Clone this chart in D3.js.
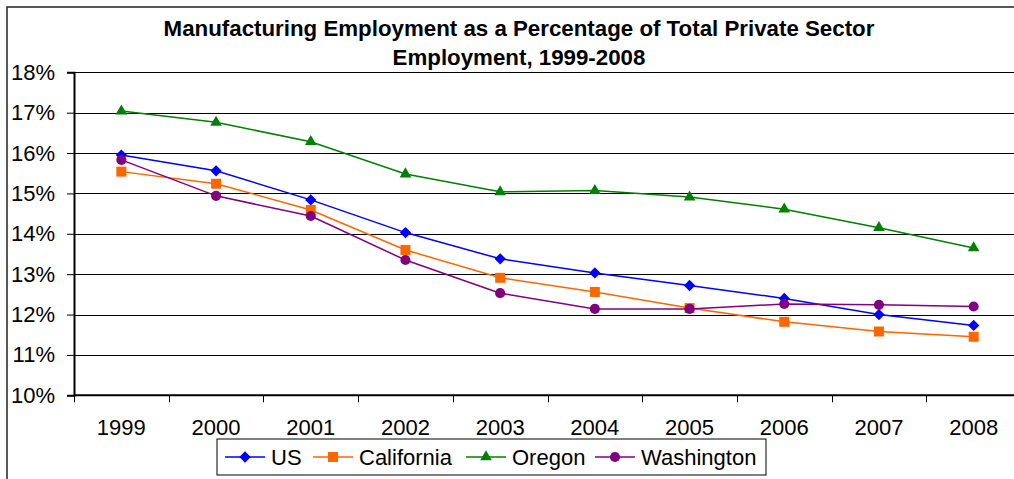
<!DOCTYPE html>
<html>
<head>
<meta charset="utf-8">
<script src="https://cdn.jsdelivr.net/npm/d3@7"></script>
<style>
  html, body { margin: 0; padding: 0; background: #fff; }
  svg { display: block; font-family: "Liberation Sans", Arial, sans-serif; }
</style>
</head>
<body>
<svg id="chart" width="1014" height="479"></svg>
<script>
// data
var years = ['1999', '2000', '2001', '2002', '2003', '2004', '2005', '2006', '2007', '2008']
var usValues = [15.95, 15.56, 14.84, 14.03, 13.38, 13.03, 12.72, 12.40, 12.00, 11.73]
var californiaValues = [15.54, 15.24, 14.59, 13.60, 12.91, 12.56, 12.16, 11.82, 11.58, 11.45]
var oregonValues = [17.04, 16.76, 16.28, 15.48, 15.04, 15.07, 14.91, 14.61, 14.15, 13.65]
var washingtonValues = [15.83, 14.94, 14.44, 13.35, 12.53, 12.14, 12.14, 12.26, 12.24, 12.20]
var yTicks = [10, 11, 12, 13, 14, 15, 16, 17, 18]
var titleLines = ['Manufacturing Employment as a Percentage of Total Private Sector', 'Employment, 1999-2008']

// the excel diamond is a square turned by 45 degrees
var series = [
  { name: 'US', values: usValues, color: '#0000ff', symbol: d3.symbolSquare, size: 64, rot: 45 },
  { name: 'California', values: californiaValues, color: '#ff6600', symbol: d3.symbolSquare, size: 100, rot: 0 },
  { name: 'Oregon', values: oregonValues, color: '#008000', symbol: d3.symbolTriangle, size: 58, rot: 0 },
  { name: 'Washington', values: washingtonValues, color: '#800080', symbol: d3.symbolCircle, size: 80, rot: 0 }
]

var svg = d3.select('#chart')
var plotLeft = 74, plotRight = 1021, plotTop = 72.3, plotBottom = 395.3
var fontSize = 22

var x = d3.scaleBand().domain(years).range([plotLeft, plotRight])
var y = d3.scaleLinear().domain([10, 18]).range([plotBottom, plotTop])

// outer chart border (right/bottom edges run off the picture)
svg.append('rect')
  .attr('x', 7).attr('y', 7)
  .attr('width', 1200).attr('height', 600)
  .attr('fill', 'none').attr('stroke', '#222').attr('stroke-width', 1.5)

// title
svg.selectAll('.title')
  .data(titleLines)
  .enter().append('text')
  .attr('class', 'title')
  .attr('x', 519)
  .attr('y', function(d, i) { return 36 + i * 29 })
  .attr('text-anchor', 'middle')
  .attr('font-size', 22.3)
  .attr('font-weight', 'bold')
  .text(function(d) { return d })

// gridlines
svg.append('g')
  .selectAll('line')
  .data(yTicks.slice(1))
  .enter().append('line')
  .attr('x1', plotLeft).attr('x2', 1014)
  .attr('y1', function(d) { return Math.round(y(d)) + 0.5 })
  .attr('y2', function(d) { return Math.round(y(d)) + 0.5 })
  .attr('stroke', '#000').attr('stroke-width', 1)

// y axis
var yAxis = svg.append('g')
  .attr('transform', 'translate(' + plotLeft + ',0)')
  .call(d3.axisLeft(y).tickValues(yTicks).tickSize(7).tickPadding(12)
    .tickFormat(function(d) { return d + '%' }))
yAxis.select('.domain').attr('stroke', '#000').attr('stroke-width', 2)
yAxis.selectAll('.tick line').attr('stroke', '#000')
yAxis.selectAll('text').attr('font-size', fontSize).attr('font-family', null).attr('fill', '#000')

// x axis, ticks on the category boundaries
var xAxis = svg.append('g')
  .attr('transform', 'translate(0,' + plotBottom + ')')
xAxis.append('line')
  .attr('x1', plotLeft).attr('x2', 1014)
  .attr('stroke', '#000').attr('stroke-width', 2)
xAxis.selectAll('.xtick')
  .data(years)
  .enter().append('line')
  .attr('class', 'xtick')
  .attr('x1', function(d) { return Math.round(x(d)) + 0.5 })
  .attr('x2', function(d) { return Math.round(x(d)) + 0.5 })
  .attr('y1', 0).attr('y2', 7)
  .attr('stroke', '#000')
xAxis.selectAll('.xlabel')
  .data(years)
  .enter().append('text')
  .attr('class', 'xlabel')
  .attr('x', function(d) { return x(d) + x.bandwidth() / 2 })
  .attr('y', 40)
  .attr('text-anchor', 'middle')
  .attr('font-size', fontSize)
  .text(function(d) { return d })

// lines and markers
var line = d3.line()
  .x(function(d, i) { return x(years[i]) + x.bandwidth() / 2 })
  .y(function(d) { return y(d) })

series.forEach(function(s) {
  var g = svg.append('g')
  g.append('path')
    .attr('d', line(s.values))
    .attr('fill', 'none')
    .attr('stroke', s.color)
    .attr('stroke-width', 1.5)
  g.selectAll('path.marker')
    .data(s.values)
    .enter().append('path')
    .attr('class', 'marker')
    .attr('d', d3.symbol().type(s.symbol).size(s.size))
    .attr('transform', function(d, i) {
      return 'translate(' + (x(years[i]) + x.bandwidth() / 2) + ',' + y(d) + ') rotate(' + s.rot + ')'
    })
    .attr('fill', s.color)
})

// legend
var legend = svg.append('g').attr('transform', 'translate(217,439)')
legend.append('rect')
  .attr('width', 549).attr('height', 36)
  .attr('fill', '#fff').attr('stroke', '#000').attr('stroke-width', 1)
var legendX = [8, 96, 249, 378]
var item = legend.selectAll('.item')
  .data(series)
  .enter().append('g')
  .attr('class', 'item')
  .attr('transform', function(d, i) { return 'translate(' + legendX[i] + ',18)' })
item.append('line')
  .attr('x1', 0).attr('x2', 40)
  .attr('stroke', function(d) { return d.color })
  .attr('stroke-width', 1.5)
item.append('path')
  .attr('d', function(d) { return d3.symbol().type(d.symbol).size(d.size)() })
  .attr('transform', function(d) { return 'translate(20,0) rotate(' + d.rot + ')' })
  .attr('fill', function(d) { return d.color })
item.append('text')
  .attr('x', 46)
  .attr('y', 8)
  .attr('font-size', fontSize)
  .text(function(d) { return d.name })
</script>
</body>
</html>
